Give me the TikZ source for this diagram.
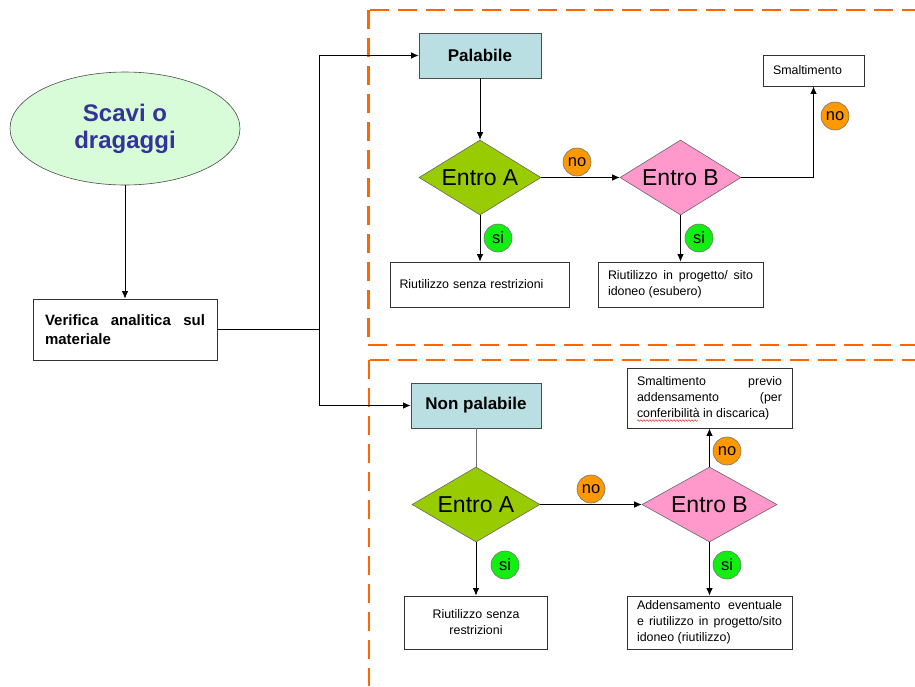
\documentclass[tikz,border=0pt]{standalone}
\usepackage{fontspec}
\setmainfont{Liberation Sans}
\usetikzlibrary{shapes.geometric,arrows.meta,decorations.pathmorphing}
\hyphenpenalty=10000
\exhyphenpenalty=10000
\definecolor{dashorange}{HTML}{FF6600}
\definecolor{ellgreen}{HTML}{D8FBD8}
\definecolor{scavblue}{HTML}{333399}
\definecolor{boxblue}{HTML}{B9DFE3}
\definecolor{diagA}{HTML}{99CC00}
\definecolor{diagB}{HTML}{FF99CC}
\definecolor{noorange}{HTML}{FF9900}
\definecolor{sigreen}{HTML}{11EE11}
\begin{document}
\begin{tikzpicture}[x=1pt,y=-1pt,
  sep/.style={draw=dashorange,line width=2.8pt,dash pattern=on 19pt off 9pt},
  conn/.style={draw=black,line width=0.8pt},
  arr/.style={conn,-{Latex[length=7.5pt,width=6.5pt]}},
  headbox/.style={draw=black!70,line width=0.8pt,fill=boxblue,inner sep=0pt,
    font=\fontsize{17}{20}\selectfont\bfseries},
  decis/.style={diamond,draw=black!60,line width=0.6pt,inner sep=0pt,
    font=\fontsize{23}{26}\selectfont},
  txtbox/.style={draw=black!80,line width=0.8pt,inner sep=0pt,
    font=\fontsize{12.4}{16}\selectfont},
  badge/.style={circle,draw=black!55,line width=0.6pt,minimum size=28pt,inner sep=0pt,
    font=\fontsize{16.5}{18}\selectfont},
  nobadge/.style={badge,fill=noorange},
  sibadge/.style={badge,fill=sigreen}]
\useasboundingbox (0,0) rectangle (915,686);
% separators
\draw[sep] (370,10) -- (915,10);
\draw[sep] (368.5,10) -- (368.5,342);
\draw[sep] (368,345) -- (915,345);
\draw[sep] (370,360) -- (915,360);
\draw[sep] (369,360) -- (369,686);
% left part
\node[ellipse,draw=black!70,line width=0.6pt,fill=ellgreen,minimum width=230pt,minimum height=113pt,
  inner sep=0pt,align=center,text=scavblue,font=\fontsize{24}{27}\selectfont\bfseries]
  (scavi) at (125,128.5) {Scavi o\\dragaggi};
\node[draw=black!80,line width=0.8pt,minimum width=184pt,minimum height=61pt,inner sep=0pt,
  text width=160pt,align=justify,font=\fontsize{15}{19}\selectfont\bfseries]
  (verif) at (125,329.5) {Verifica analitica sul materiale};
\draw[arr] (scavi.south) -- (verif.north);
\coordinate (split) at (319,329.5);
% upper branch
\node[headbox,minimum width=122pt,minimum height=45pt] (pal) at (480,55.5) {Palabile};
\node[decis,shape aspect=1.63,fill=diagA,minimum width=122pt,minimum height=75pt] (ea1) at (480,177.5) {Entro A};
\node[decis,shape aspect=1.62,fill=diagB,minimum width=121pt,minimum height=75pt] (eb1) at (680.5,177.5) {Entro B};
\node[txtbox,minimum width=101pt,minimum height=31pt,text width=81pt,align=left] (sm1) at (813.5,70.5) {Smaltimento};
\node[txtbox,minimum width=179pt,minimum height=45pt,text width=161pt,align=left] (ri1) at (480,284.5) {Riutilizzo senza restrizioni};
\node[txtbox,minimum width=165pt,minimum height=45pt,text width=145pt,align=justify] (ri2) at (680.5,284.5) {Riutilizzo in progetto/ sito idoneo (esubero)};
\draw[conn] (verif.east) -- (split);
\draw[arr] (split) |- (pal.west);
\draw[arr] (pal.south) -- (ea1.north);
\draw[arr] (ea1.east) -- (eb1.west);
\draw[arr] (eb1.east) -| (sm1.south);
\draw[arr] (ea1.south) -- (ri1.north);
\draw[arr] (eb1.south) -- (ri2.north);
\node[nobadge] (no1) at (577,162) {no};
\node[nobadge] (no2) at (835,116) {no};
\node[sibadge] (si1) at (498,238) {si};
\node[sibadge] (si2) at (699,238) {si};
% lower branch
\node[headbox,minimum width=130pt,minimum height=45pt] (npal) at (476,405.5) {Non palabile};
\node[decis,shape aspect=1.7,fill=diagA,minimum width=128pt,minimum height=75pt] (ea2) at (476,504.5) {Entro A};
\node[decis,shape aspect=1.8,fill=diagB,minimum width=135pt,minimum height=75pt] (eb2) at (709.5,504.5) {Entro B};
\node[txtbox,minimum width=165pt,minimum height=60pt,text width=145pt,align=justify] (sm2) at (709.5,398) {Smaltimento previo addensamento (per conferibilità in discarica)};
\node[txtbox,minimum width=143pt,minimum height=53pt,text width=125pt,align=center] (ri3) at (476,622.5) {Riutilizzo senza\\restrizioni};
\node[txtbox,minimum width=165pt,minimum height=53pt,text width=145pt,align=justify] (ad) at (709.5,622.5) {Addensamento eventuale e riutilizzo in progetto/sito idoneo (riutilizzo)};
\draw[arr] (split) |- (npal.west);
\draw[draw=black!55,line width=0.8pt] (npal.south) -- (ea2.north);
\draw[arr] (ea2.east) -- (eb2.west);
\draw[arr] (eb2.north) -- (sm2.south);
\draw[arr] (ea2.south) -- (ri3.north);
\draw[arr] (eb2.south) -- (ad.north);
\node[nobadge] (no3) at (591,489) {no};
\node[nobadge] (no4) at (727,451) {no};
\node[sibadge] (si3) at (505,565) {si};
\node[sibadge] (si4) at (727,565) {si};
% spell-check underline
\coordinate (wa) at (637,420.5);
\coordinate (wb) at (698,420.5);
\draw[red!85!black,line width=0.4pt,decorate,decoration={snake,amplitude=0.8pt,segment length=3pt}] (wa) -- (wb);
\end{tikzpicture}
\end{document}
